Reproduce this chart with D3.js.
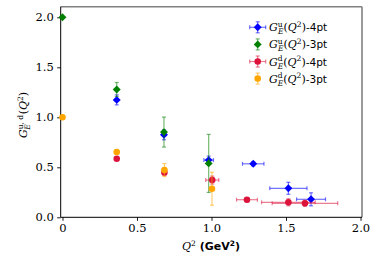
<!DOCTYPE html>
<html>
<head>
<meta charset="utf-8">
<script src="https://cdn.jsdelivr.net/npm/d3@7"></script>
<style>
  body { margin: 0; background: #fff; }
  svg { display: block; }
  .serif { font-family: 'DejaVu Serif', serif; }
  .sans { font-family: 'DejaVu Sans', sans-serif; }
</style>
</head>
<body>
<div class="canvas"></div>
<script>
// data
const uQ4    = [0.364, 0.681, 0.981, 1.28, 1.516, 1.668];
const uQ4err = [0.01, 0.01, 0.032, 0.072, 0.125, 0.097];
const uG4    = [1.174, 0.825, 0.572, 0.535, 0.29, 0.18];
const uG4err = [0.05, 0.05, 0.04, 0.02, 0.06, 0.065];

const uQ3    = [0, 0.364, 0.681, 0.981];
const uG3    = [2.0, 1.278, 0.852, 0.539];
const uG3err = [0.005, 0.07, 0.15, 0.29];

const dQ4    = [0.364, 0.684, 1.005, 1.238, 1.516, 1.627];
const dQ4err = [0.005, 0.01, 0.044, 0.07, 0.18, 0.22];
const dG4    = [0.585, 0.449, 0.372, 0.176, 0.15, 0.14];
const dG4err = [0.01, 0.03, 0.04, 0.02, 0.035, 0.03];

const dQ3    = [0, 0.364, 0.684, 1.003];
const dG3    = [1.0, 0.652, 0.472, 0.286];
const dG3err = [0.005, 0.01, 0.065, 0.165];

const xTicks = [0, 0.5, 1.0, 1.5, 2.0];
const xTickLabels = ['0', '0.5', '1.0', '1.5', '2.0'];
const yTicks = [0, 0.5, 1.0, 1.5, 2.0];
const yTickLabels = ['0.0', '0.5', '1.0', '1.5', '2.0'];

// series table built from the arrays above
const series = [
  {sup: 'u', tag: '-4pt', color: '#0000ff', shape: 'diamond', q: uQ4, qe: uQ4err, g: uG4, ge: uG4err},
  {sup: 'u', tag: '-3pt', color: '#008000', shape: 'diamond', q: uQ3, qe: null,   g: uG3, ge: uG3err},
  {sup: 'd', tag: '-4pt', color: '#dc143c', shape: 'circle',  q: dQ4, qe: dQ4err, g: dG4, ge: dG4err},
  {sup: 'd', tag: '-3pt', color: '#ffa500', shape: 'circle',  q: dQ3, qe: null,   g: dG3, ge: dG3err}
];

const W = 377, H = 261;
const box = {left: 60.7, right: 362, top: 6.7, bottom: 217.3};

const svg = d3.select('.canvas').append('svg')
  .attr('width', W).attr('height', H);

const x = d3.scaleLinear().domain([-0.012, 2.01]).range([box.left, box.right]);
const y = d3.scaleLinear().domain([0, 2.106]).range([box.bottom, box.top]);

// frame: top/right grey, left/bottom black
svg.append('line').attr('x1', box.left).attr('x2', box.right).attr('y1', box.top).attr('y2', box.top)
  .attr('stroke', '#808080').attr('stroke-width', 1.6);
svg.append('line').attr('x1', box.right).attr('x2', box.right).attr('y1', box.top).attr('y2', box.bottom)
  .attr('stroke', '#808080').attr('stroke-width', 1.6);

// axes
const xAxis = d3.axisBottom(x).tickValues(xTicks)
  .tickFormat((d, i) => xTickLabels[i]).tickSize(3.5).tickPadding(3.5).tickSizeOuter(0);
const yAxis = d3.axisLeft(y).tickValues(yTicks)
  .tickFormat((d, i) => yTickLabels[i]).tickSize(3.5).tickPadding(3.5).tickSizeOuter(0);

const gx = svg.append('g').attr('transform', `translate(0,${box.bottom})`).call(xAxis);
const gy = svg.append('g').attr('transform', `translate(${box.left},0)`).call(yAxis);
[gx, gy].forEach(g => {
  g.attr('font-family', null).attr('font-size', null);
  g.select('.domain').attr('stroke', '#000').attr('stroke-width', 1);
  g.selectAll('.tick line').attr('stroke', '#000').attr('stroke-width', 0.9);
  g.selectAll('.tick text').attr('class', 'serif').style('font-size', '11.5px').attr('fill', '#000');
});
gx.select('.domain').attr('d', `M${box.left},0H${box.right}`);
gy.select('.domain').attr('d', `M0,${box.bottom}V${box.top}`);

// markers
const diamond = d3.symbol().type(d3.symbolDiamond2).size(40);
const circle = d3.symbol().type(d3.symbolCircle).size(34);

function drawMarker(g, s, cx, cy) {
  g.append('path')
    .attr('d', s.shape === 'diamond' ? diamond() : circle())
    .attr('transform', `translate(${cx},${cy})`)
    .attr('fill', s.color);
}

function drawErr(g, s, px, py, dx0, dx1, dy0, dy1, cap) {
  const eg = g.append('g').attr('stroke', s.color).attr('stroke-opacity', 0.55).attr('stroke-width', 1.2);
  if (dy1 - dy0 > 0.5) {
    eg.append('line').attr('x1', px).attr('x2', px).attr('y1', dy0).attr('y2', dy1);
    eg.append('line').attr('x1', px - cap).attr('x2', px + cap).attr('y1', dy0).attr('y2', dy0);
    eg.append('line').attr('x1', px - cap).attr('x2', px + cap).attr('y1', dy1).attr('y2', dy1);
  }
  if (dx1 - dx0 > 0.5) {
    eg.append('line').attr('x1', dx0).attr('x2', dx1).attr('y1', py).attr('y2', py);
    eg.append('line').attr('x1', dx0).attr('x2', dx0).attr('y1', py - cap).attr('y2', py + cap);
    eg.append('line').attr('x1', dx1).attr('x2', dx1).attr('y1', py - cap).attr('y2', py + cap);
  }
}

const plot = svg.append('g');
series.forEach(s => {
  const g = plot.append('g');
  s.q.forEach((q, i) => {
    const qe = s.qe ? s.qe[i] : 0;
    const ge = s.ge[i];
    drawErr(g, s, x(q), y(s.g[i]), x(q - qe), x(q + qe), y(s.g[i] + ge), y(s.g[i] - ge), 2);
    drawMarker(g, s, x(q), y(s.g[i]));
  });
});

// legend
const legend = svg.append('g');
series.forEach((s, i) => {
  const ly = 27.3 + i * 17.1;
  const lx = 257.7;
  const lg = legend.append('g');
  const hasX = s.qe !== null;
  drawErr(lg, s, lx, ly, hasX ? lx - 8 : lx, hasX ? lx + 8 : lx, ly - 5.5, ly + 5.5, 2);
  drawMarker(lg, s, lx, ly);

  const t = lg.append('text').attr('class', 'serif').attr('x', 269).attr('y', ly + 4)
    .style('font-size', '11px').attr('fill', '#000');
  t.append('tspan').attr('font-style', 'italic').text('G');
  t.append('tspan').style('font-size', '7.5px').attr('dy', -4.5).text(s.sup);
  t.append('tspan').style('font-size', '7.5px').attr('font-style', 'italic')
    .attr('dx', s.sup === 'u' ? -4.6 : -4.8).attr('dy', 7.5).text('E');
  t.append('tspan').attr('dy', -3).text('(');
  t.append('tspan').attr('font-style', 'italic').text('Q');
  t.append('tspan').style('font-size', '7.5px').attr('dy', -4.5).text('2');
  t.append('tspan').attr('dy', 4.5).text(')');
  t.append('tspan').attr('class', 'sans').style('font-size', '10.5px').text(s.tag);
});

// axis labels
const xl = svg.append('text').attr('x', 211).attr('y', 250).attr('text-anchor', 'middle')
  .style('font-size', '11px').attr('fill', '#000');
xl.append('tspan').attr('class', 'serif').attr('font-style', 'italic').text('Q');
xl.append('tspan').attr('class', 'serif').style('font-size', '7.5px').attr('dy', -4.5).text('2');
xl.append('tspan').attr('class', 'sans').attr('font-weight', 'bold').attr('dy', 4.5).text(' (GeV');
xl.append('tspan').attr('class', 'sans').attr('font-weight', 'bold').style('font-size', '7.5px').attr('dy', -4.5).text('2');
xl.append('tspan').attr('class', 'sans').attr('font-weight', 'bold').attr('dy', 4.5).text(')');

const yl = svg.append('text').attr('class', 'serif').attr('transform', 'translate(27,115) rotate(-90)')
  .attr('text-anchor', 'middle').style('font-size', '11px').attr('fill', '#000');
yl.append('tspan').attr('font-style', 'italic').text('G');
yl.append('tspan').style('font-size', '7.5px').attr('dy', -4.5).text('u, d');
yl.append('tspan').style('font-size', '7.5px').attr('font-style', 'italic').attr('dx', -15).attr('dy', 7.5).text('E');
yl.append('tspan').attr('dx', 10).attr('dy', -3).text('(');
yl.append('tspan').attr('font-style', 'italic').text('Q');
yl.append('tspan').style('font-size', '7.5px').attr('dy', -4.5).text('2');
yl.append('tspan').attr('dy', 4.5).text(')');
</script>
</body>
</html>
